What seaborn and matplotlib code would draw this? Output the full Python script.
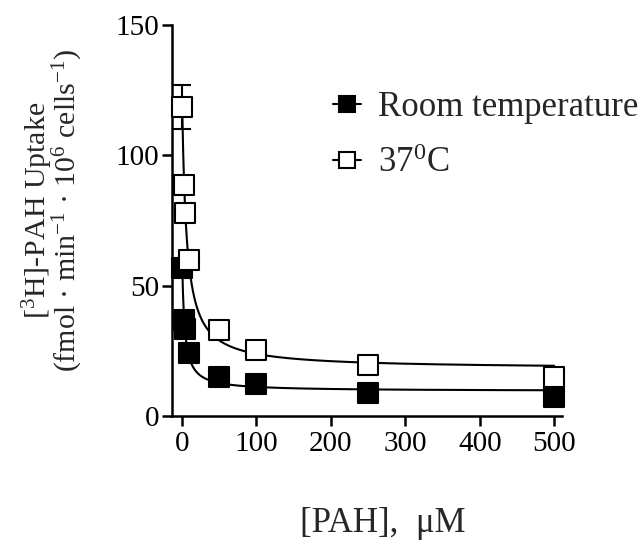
import numpy as np
import pandas as pd
import matplotlib
matplotlib.use("Agg")
import matplotlib.pyplot as plt
import seaborn as sns

# ---- data ----
pah_conc = [1, 2.5, 5, 10, 50, 100, 250, 500]
room_temp = [56.6, 36.8, 33.3, 24.3, 14.8, 12.2, 9.0, 7.2]
temp_37 = [118.6, 88.8, 78.0, 60.0, 33.0, 25.3, 19.5, 15.1]
err_37 = [8.5, 0, 0, 0, 0, 0, 0, 0]
series_names = ["Room temperature", "37$^{0}$C"]
x_ticks = [0, 100, 200, 300, 400, 500]
y_ticks = [0, 50, 100, 150]


def fit_hyperbola(x, y):
    """Fit y = bottom + span*K/(K+x) by grid search on K and linear least squares."""
    x = np.asarray(x, float)
    y = np.asarray(y, float)
    best = None
    for K in np.logspace(-1, 3, 2000):
        A = np.column_stack([np.ones_like(x), K / (K + x)])
        coef, *_ = np.linalg.lstsq(A, y, rcond=None)
        r = np.sum((A @ coef - y) ** 2)
        if best is None or r < best[0]:
            best = (r, K, coef)
    _, K, (b, s) = best
    return lambda xx: b + s * K / (K + xx)


sns.set_theme(style="ticks")
plt.rcParams["font.family"] = ["Liberation Serif", "DejaVu Serif"]
plt.rcParams["mathtext.fontset"] = "custom"
plt.rcParams["mathtext.rm"] = "Liberation Serif"
plt.rcParams["mathtext.it"] = "Liberation Serif:italic"
plt.rcParams["mathtext.bf"] = "Liberation Serif:bold"

fig = plt.figure(figsize=(6.44, 5.42), dpi=100)
ax = fig.add_axes([0.2666, 0.2325, 0.6056, 0.7214])

xs = np.linspace(min(pah_conc), max(pah_conc), 2000)
curves = []
for name, ys in zip(series_names, [room_temp, temp_37]):
    f = fit_hyperbola(pah_conc, ys)
    curves.append(pd.DataFrame({"x": xs, "y": f(xs), "series": name}))
curve_df = pd.concat(curves)
sns.lineplot(data=curve_df, x="x", y="y", units="series", estimator=None,
             color="black", lw=1.5, ax=ax, legend=False)

ex = [x for x, e in zip(pah_conc, err_37) if e > 0]
ey = [y for y, e in zip(temp_37, err_37) if e > 0]
ee = [e for e in err_37 if e > 0]
ax.errorbar(ex, ey, yerr=ee, fmt="none", ecolor="black",
            elinewidth=1.5, capsize=6.5, capthick=1.5, zorder=3)

pts = pd.DataFrame({
    "x": pah_conc * 2,
    "y": room_temp + temp_37,
    "series": [series_names[0]] * len(pah_conc) + [series_names[1]] * len(pah_conc),
})
fill = {series_names[0]: "black", series_names[1]: "white"}
for name in series_names:
    sub = pts[pts.series == name]
    sns.scatterplot(data=sub, x="x", y="y", marker="s", s=190,
                    color=fill[name], edgecolor="black", linewidth=1.5,
                    ax=ax, zorder=4, legend=False, clip_on=False)

ax.set_xlim(-13.4, 510)
ax.set_ylim(0, 150)
ax.set_xticks(x_ticks)
ax.set_yticks(y_ticks)
ax.tick_params(axis="both", direction="out", length=7, width=1.8,
               labelsize=21, colors="black", pad=2)
ax.tick_params(axis="x", pad=4)
for s in ["left", "bottom"]:
    ax.spines[s].set_linewidth(1.8)
    ax.spines[s].set_color("black")
sns.despine(ax=ax)
ax.set_xlabel("")
ax.set_ylabel("")

fig.text(383 / 644, 1 - 523 / 542, "[PAH],  μM", fontsize=25,
         ha="center", va="center")
fig.text(53 / 644, 1 - 210 / 542,
         "[$^{3}$H]-PAH Uptake\n(fmol · min$^{-1}$ · 10$^{6}$ cells$^{-1}$)",
         fontsize=21.5, linespacing=0.85, rotation=90, ha="center", va="center",
         multialignment="center")

handles = [plt.Line2D([], [], color="black", lw=1.5, marker="s", ms=12,
                      mfc=fill[n], mec="black", mew=1.5) for n in series_names]
leg = ax.legend(handles, series_names, loc="upper left",
                bbox_to_anchor=(0.37, 0.875), frameon=False, fontsize=25,
                handlelength=0.8, handletextpad=0.5, labelspacing=0.65,
                borderpad=0)

fig.savefig("out.png", dpi=100)
